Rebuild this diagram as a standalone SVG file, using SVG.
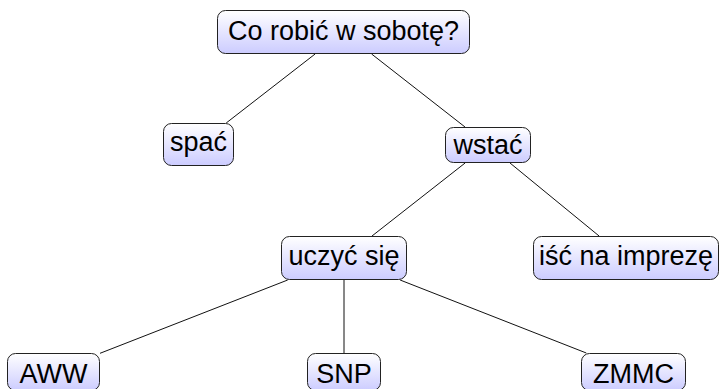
<svg xmlns="http://www.w3.org/2000/svg" width="725" height="389" viewBox="0 0 725 389">
<defs>
<linearGradient id="g" x1="0" y1="0" x2="0" y2="1">
<stop offset="0" stop-color="#ffffff"/>
<stop offset="1" stop-color="#ccccff"/>
</linearGradient>
<style>
.box{fill:url(#g);stroke:#222;stroke-width:1}
.lbl{font-family:"Liberation Sans","DejaVu Sans",sans-serif;font-size:27px;fill:#000;text-anchor:middle}
.edge{stroke:#111;stroke-width:1;fill:none}
</style>
</defs>
<g id="connectors">
<line class="edge" x1="315.1" y1="54" x2="226.2" y2="123"/>
<line class="edge" x1="371.6" y1="54" x2="465" y2="127"/>
<line class="edge" x1="465.1" y1="163" x2="372" y2="236"/>
<line class="edge" x1="510" y1="163" x2="599.1" y2="236"/>
<line class="edge" x1="287.7" y1="280" x2="100" y2="353.3"/>
<line class="edge" x1="344" y1="280" x2="344" y2="353"/>
<line class="edge" x1="400.1" y1="280" x2="586.3" y2="353"/>
</g>
<g id="root">
<rect class="box" x="217.5" y="10.5" width="252" height="43" rx="8"/>
<text class="lbl" x="343.5" y="40">Co robić w sobotę?</text>
</g>
<g id="spac">
<rect class="box" x="163.5" y="123.5" width="70" height="42" rx="8"/>
<text class="lbl" x="198.5" y="151">spać</text>
</g>
<g id="wstac">
<rect class="box" x="445.5" y="127.5" width="85" height="35" rx="8"/>
<text class="lbl" x="488" y="154">wstać</text>
</g>
<g id="uczyc">
<rect class="box" x="281.5" y="236.5" width="125" height="43" rx="8"/>
<text class="lbl" x="344" y="264.5">uczyć się</text>
</g>
<g id="isc">
<rect class="box" x="533.5" y="236.5" width="185" height="43" rx="8"/>
<text class="lbl" x="626" y="264.5">iść na imprezę</text>
</g>
<g id="aww">
<rect class="box" x="7.5" y="353.5" width="92" height="37" rx="8"/>
<text class="lbl" x="53.5" y="382.5">AWW</text>
</g>
<g id="snp">
<rect class="box" x="307.5" y="353.5" width="73" height="37" rx="8"/>
<text class="lbl" x="344" y="382.5">SNP</text>
</g>
<g id="zmmc">
<rect class="box" x="581.5" y="353.5" width="104" height="37" rx="8"/>
<text class="lbl" x="633.5" y="382.5">ZMMC</text>
</g>
</svg>
